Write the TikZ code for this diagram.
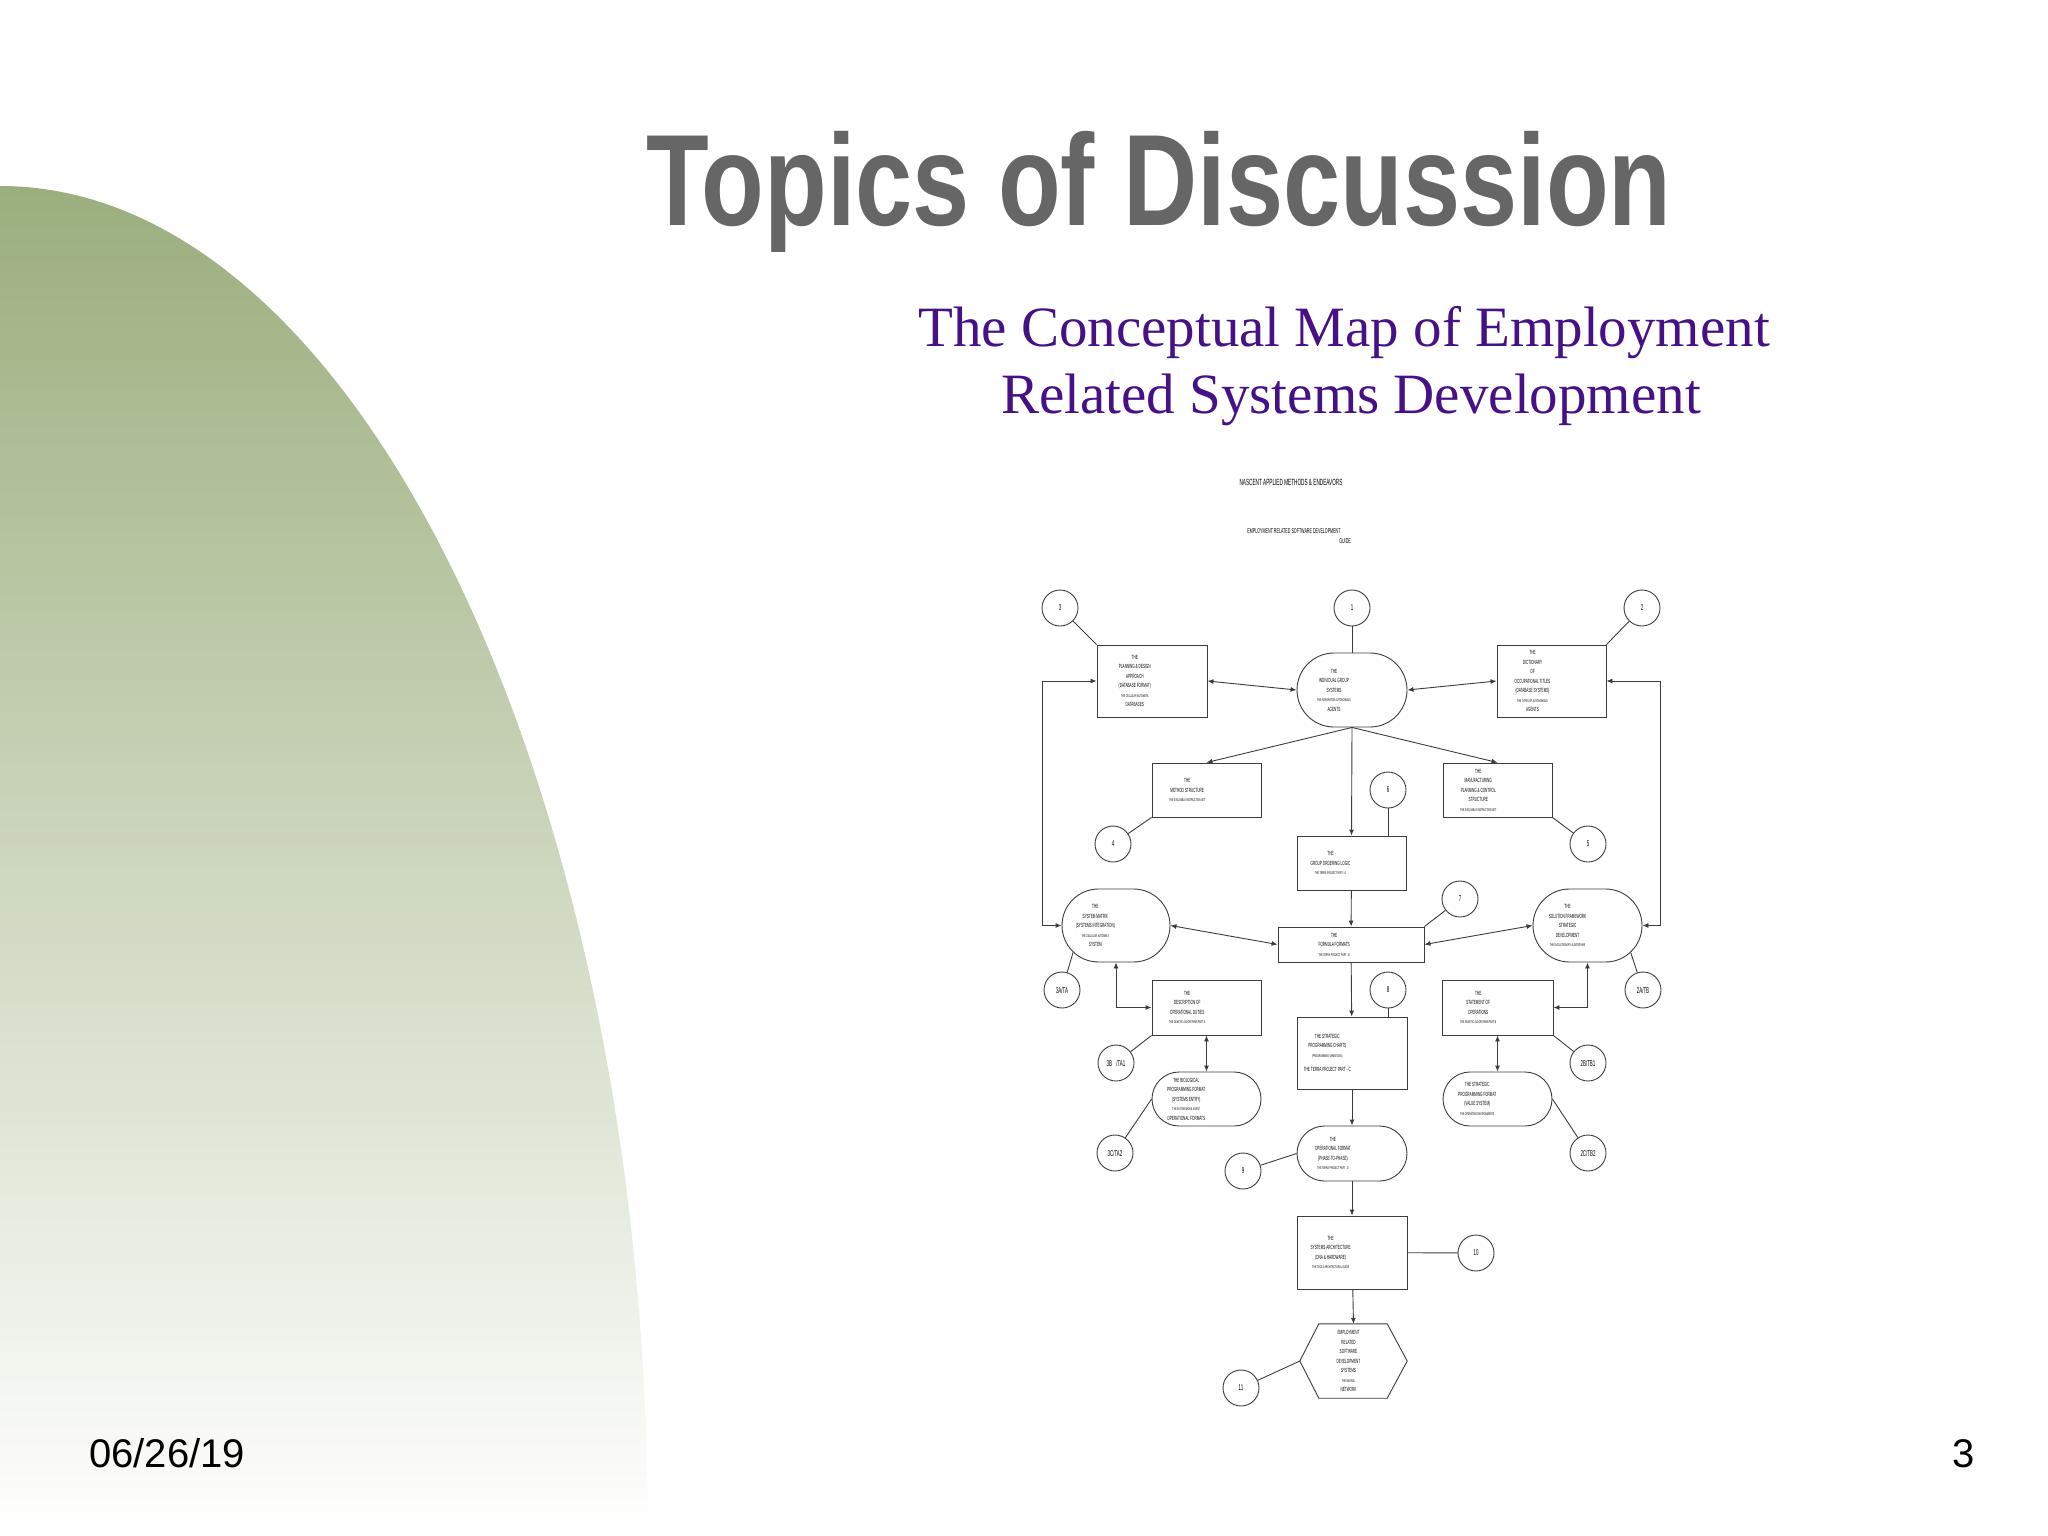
\documentclass[tikz,border=0pt]{standalone}
\usepackage{fontspec}
\setmainfont{Liberation Serif}
\newfontfamily\titlesf[FakeStretch=0.79]{Liberation Sans}
\newfontfamily\chartsf[FakeStretch=0.52]{Liberation Sans}
\newfontfamily\datesf{Liberation Sans}
\usetikzlibrary{shapes.misc,arrows.meta}
\definecolor{slidegreen}{RGB}{155,174,125}
\definecolor{titlegray}{RGB}{102,102,102}
\definecolor{subpurple}{RGB}{70,16,135}
\definecolor{chartline}{RGB}{60,60,60}
\newcommand{\sm}{\fontsize{4}{6}\selectfont}

\begin{document}
\begin{tikzpicture}[x=1pt,y=-1pt,>={Latex[length=6pt,width=5pt]},
    link/.style={draw=chartline, line width=0.9pt},
    chartbox/.style={draw=chartline, line width=0.9pt, minimum width=110pt, minimum height=72pt, inner sep=0pt},
    chartpill/.style={chartbox, rounded rectangle},
    boxtext/.style={anchor=east, align=center, inner sep=0pt, xshift=-1pt, font=\chartsf\fontsize{6}{9.5}\selectfont},
    numcirc/.style={circle, draw=chartline, line width=0.9pt, minimum size=36pt, inner sep=0pt, font=\chartsf\fontsize{8.5}{8.5}\selectfont}]
\useasboundingbox (0,0) rectangle (2048,1536);
% green backdrop on the left
\shade[top color=slidegreen, bottom color=white] (0,1536) -- (0,186) arc[start angle=-90, end angle=0, x radius=648, y radius=1350] -- cycle;

% slide texts
\node[font=\titlesf\bfseries\fontsize{130}{130}\selectfont, text=titlegray, anchor=base] (title) at (1159,225) {Topics of Discussion};
\node[font=\fontsize{57}{57}\selectfont, text=subpurple, anchor=base] (sub1) at (1344,346) {The Conceptual Map of Employment};
\node[font=\fontsize{57}{57}\selectfont, text=subpurple, anchor=base] (sub2) at (1351,413) {Related Systems Development};
\node[font=\datesf\fontsize{40}{40}\selectfont, anchor=base west, inner sep=0pt] (date) at (89,1467) {06/26/19};
\node[font=\datesf\fontsize{40}{40}\selectfont, anchor=base, inner sep=0pt] (pagenum) at (1964,1467) {3};

% chart header
\node[font=\chartsf\fontsize{9}{9}\selectfont] (hdr) at (1291,482) {NASCENT APPLIED METHODS \& ENDEAVORS};
\node[font=\chartsf\fontsize{7}{7}\selectfont] (guide1) at (1294,531) {EMPLOYMENT RELATED SOFTWARE DEVELOPMENT};
\node[font=\chartsf\fontsize{7}{7}\selectfont, anchor=east, inner sep=0pt] (guide2) at (1351,541) {GUIDE};

% numbered circles
\foreach \n/\lab/\x/\y in {c1/1/1352/608, c2/2/1642/608, c3/3/1060/608, c4/4/1113/844, c5/5/1588/844,
    c6/6/1388/790, c7/7/1460/899, c8/8/1388/990, c9/9/1243/1171, c10/10/1476/1253, c11/11/1241/1388,
    c3a/{3A/TA}/1062/990, c3b/{3B\enspace/TA1}/1116/1063, c3c/{3C/TA2}/1115/1153,
    c2a/{2A/TB}/1643/990, c2b/{2B/TB1}/1588/1063, c2c/{2C/TB2}/1588/1153}
    \node[numcirc] (\n) at (\x,\y) {\lab};

% boxes
\node[chartbox] (plan) at (1152,681) {};
\node[boxtext] (plan-t) at (plan.center) {THE\\PLANNING \& DESIGN\\APPROACH\\(DATABASE FORMAT)\\\sm THE CELLULAR AUTOMATA\\DATABASES};
\node[chartpill, minimum height=74pt] (indiv) at (1352,690) {};
\node[boxtext] (indiv-t) at (indiv.center) {THE\\INDIVIDUAL GROUP\\SYSTEMS\\\sm THE INTEGRATED AUTONOMOUS\\AGENTS};
\node[chartbox, minimum width=109pt] (dict) at (1551.5,681) {};
\node[boxtext] (dict-t) at (dict.center) {THE\\DICTIONARY\\OF\\OCCUPATIONAL TITLES\\(DATABASE SYSTEMS)\\\sm THE TYPES OF AUTONOMOUS\\AGENTS};
\node[chartbox, minimum width=109pt, minimum height=54pt] (method) at (1206.5,790) {};
\node[boxtext] (method-t) at (method.center) {THE\\METHOD STRUCTURE\\\sm THE EVOLVABLE INSTRUCTION SET};
\node[chartbox, minimum width=109pt, minimum height=54pt] (manuf) at (1497.5,790) {};
\node[boxtext] (manuf-t) at (manuf.center) {THE\\MANUFACTURING\\PLANNING \& CONTROL\\STRUCTURE\\\sm THE EVOLVABLE INSTRUCTION SET};
\node[chartbox, minimum width=109pt, minimum height=54pt] (group) at (1351.5,863) {};
\node[boxtext] (group-t) at (group.center) {THE\\GROUP ORDERING LOGIC\\\sm THE TERRA PROJECT PART - A};
\node[chartpill, minimum width=108pt, minimum height=73pt] (matrix) at (1116,925.5) {};
\node[boxtext] (matrix-t) at (matrix.center) {THE\\SYSTEM MATRIX\\(SYSTEMS INTEGRATION)\\\sm THE CELLULAR AUTOMATA\\SYSTEM};
\node[chartbox, minimum width=146pt, minimum height=35pt] (formula) at (1351,944.5) {};
\node[boxtext] (formula-t) at (formula.center) {THE\\FORMULA FORMATS\\\sm THE TERRA PROJECT PART - B};
\node[chartpill, minimum width=109pt, minimum height=73pt] (solution) at (1587.5,925.5) {};
\node[boxtext] (solution-t) at (solution.center) {THE\\SOLUTION FRAMEWORK\\STRATEGIC\\DEVELOPMENT\\\sm THE EVOLUTIONARY ALGORITHMS};
\node[chartbox, minimum width=109pt, minimum height=55pt] (descr) at (1206.5,1007.5) {};
\node[boxtext] (descr-t) at (descr.center) {THE\\DESCRIPTION OF\\OPERATIONAL DUTIES\\\sm THE GENETIC ALGORITHMS PART A};
\node[chartbox, minimum width=111pt, minimum height=55pt] (statem) at (1497.5,1007.5) {};
\node[boxtext] (statem-t) at (statem.center) {THE\\STATEMENT OF\\OPERATIONS\\\sm THE GENETIC ALGORITHMS PART B};
\node[chartbox] (charts) at (1352,1053) {};
\node[boxtext] (charts-t) at (charts.center) {THE STRATEGIC\\PROGRAMMING CHARTS\\\sm (PROGRAMMING VARIATIONS)\\[5pt]THE TERRA PROJECT PART - C};
\node[chartpill, minimum width=109pt, minimum height=54pt] (bio) at (1206.5,1099) {};
\node[boxtext] (bio-t) at (bio.center) {THE BIOLOGICAL\\PROGRAMMING FORMAT\\(SYSTEMS ENTRY)\\\sm THE AUTONOMOUS AGENT\\OPERATIONAL FORMATS};
\node[chartpill, minimum width=109pt, minimum height=54pt] (spf) at (1497.5,1099) {};
\node[boxtext] (spf-t) at (spf.center) {THE STRATEGIC\\PROGRAMMING FORMAT\\(VALUE SYSTEM)\\\sm THE OPERATING ENVIRONMENTS};
\node[chartpill, minimum height=55pt] (opf) at (1352,1153.5) {};
\node[boxtext] (opf-t) at (opf.center) {THE\\OPERATIONAL FORMAT\\(PHASE-TO-PHASE)\\\sm THE TERRA PROJECT PART - D};
\node[chartbox, minimum height=73pt] (arch) at (1352,1252.5) {};
\node[boxtext] (arch-t) at (arch.center) {THE\\SYSTEMS ARCHITECTURE\\(DNA \& HARDWARE)\\\sm THE TOOLS ARCHITECTURAL GUIDE};
\node[minimum width=107pt, minimum height=74pt, inner sep=0pt] (hex) at (1353.5,1361) {};
\draw[link] (hex.west) -- ([xshift=19pt]hex.north west) -- ([xshift=-20pt]hex.north east) -- (hex.east)
    -- ([xshift=-20pt]hex.south east) -- ([xshift=19pt]hex.south west) -- cycle;
\node[boxtext, xshift=8pt] (hex-t) at (hex.center) {EMPLOYMENT\\RELATED\\SOFTWARE\\DEVELOPMENT\\SYSTEMS\\\sm THE NEURAL\\NETWORK};

% connectors
\draw[link] (c3) -- (plan.north west);
\draw[link] (c1) -- (indiv);
\draw[link] (c2) -- (dict.north east);
\draw[link,<->] (plan.east) -- (indiv.west);
\draw[link,<->] (indiv.east) -- (dict.west);
\foreach \t in {method,group,manuf}
    \draw[link,->] (indiv.south) -- (\t.north);
\draw[link] (method.south west) -- (c4);
\draw[link] (manuf.south east) -- (c5);
\draw[link] (c6) -- (c6 |- group.north);
\draw[link,->] (group) -- (formula);
\draw[link] (c7) -- (formula.north east);
\draw[link,<->] (matrix.east) -- (formula.west);
\draw[link,<->] (solution.west) -- (formula.east);
\draw[link,<->] (plan.west) -- ++(-54,0) |- (matrix.west);
\draw[link,<->] (dict.east) -- ++(54,0) |- (solution.east);
\draw[link] (c3a) -- (matrix.212);
\draw[link] (c2a) -- (solution.328);
\draw[link,<->] (matrix.south) |- (descr.west);
\draw[link,<->] (solution.south) |- (statem.east);
\draw[link] (c3b) -- (descr.south west);
\draw[link] (c2b) -- (statem.south east);
\draw[link,<->] (descr) -- (bio);
\draw[link,<->] (statem) -- (spf);
\draw[link] (c3c) -- (bio.west);
\draw[link] (c2c) -- (spf.east);
\draw[link] (c8) -- (c8 |- charts.north);
\draw[link,->] (formula) -- (charts);
\draw[link,->] (charts) -- (opf);
\draw[link] (c9) -- (opf.west);
\draw[link,->] (opf) -- (arch);
\draw[link] (arch) -- (c10);
\draw[link,->] (arch) -- (hex.north);
\draw[link] (c11) -- (hex.west);
\end{tikzpicture}
\end{document}
